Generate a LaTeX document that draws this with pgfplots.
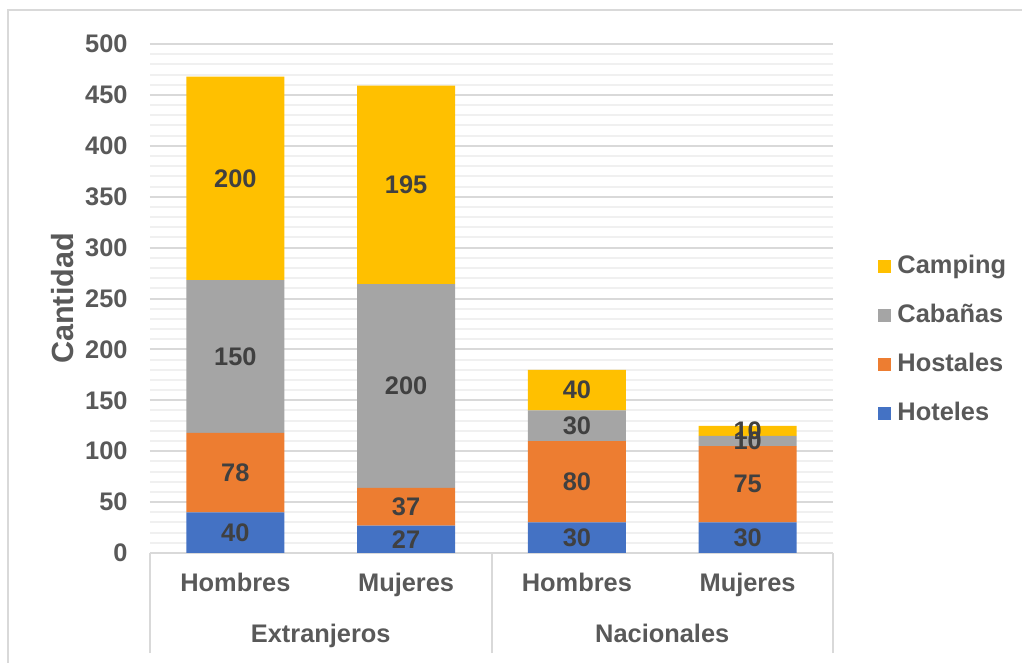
\documentclass[border=0pt]{standalone}
\usepackage{fontspec}
\setmainfont{Liberation Sans}
\usepackage{pgfplots}
\pgfplotsset{compat=1.18}

\definecolor{hoteles}{HTML}{4472C4}
\definecolor{hostales}{HTML}{ED7D31}
\definecolor{cabanas}{HTML}{A5A5A5}
\definecolor{camping}{HTML}{FFC000}
\definecolor{gridc}{HTML}{D9D9D9}
\definecolor{minorc}{HTML}{F0F0F0}
\definecolor{txt}{HTML}{595959}
\definecolor{lbl}{HTML}{404040}

\pgfplotstableread{
x  hot hos cab cam
0  40  78  150 200
1  27  37  200 195
2  30  80  30  40
3  30  75  10  10
}\datos

\newcommand{\chartfont}{\fontsize{12.7}{15}\selectfont\bfseries}

\begin{document}
\begin{tikzpicture}
\path[use as bounding box] (-75pt,-55pt) rectangle (436pt,276.5pt);
\draw[gridc, line width=1.2pt] (-71pt,-70pt) -- (-71pt,271.5pt) -- (450pt,271.5pt);
\begin{axis}[
  at={(0,0)}, anchor=south west,
  scale only axis, width=341.5pt, height=254.5pt,
  ybar stacked, bar width=0.573,
  xmin=-0.5, xmax=3.5, ymin=0, ymax=500,
  enlargelimits=false, clip=false,
  ytick distance=50, minor y tick num=4,
  ymajorgrids, yminorgrids,
  major grid style={draw=gridc, line width=1pt},
  minor grid style={draw=minorc, line width=1pt},
  axis lines*=left,
  x axis line style={draw=gridc, line width=1pt},
  y axis line style={draw=none},
  xtick={0,1,2,3},
  xticklabels={Hombres,Mujeres,Hombres,Mujeres},
  xtick style={draw=none}, ytick style={draw=none},
  extra x ticks={-0.5,1.5,3.5}, extra x tick labels={},
  extra x tick style={major tick length=50pt, tick align=outside,
    xtick style={draw=gridc, line width=1pt}},
  /pgf/number format/assume math mode=true,
  ticklabel style={font=\chartfont, text=txt},
  yticklabel style={anchor=east, inner sep=0pt, xshift=-11pt},
  xticklabel style={anchor=base, yshift=-19.25pt},
  ylabel={Cantidad},
  ylabel style={font=\fontsize{15.3}{18}\selectfont\bfseries, text=txt, anchor=center,
    at={(axis description cs:-0.128,0.5)}},
  legend cell align=left,
  reverse legend,
  legend style={at={(rel axis cs:1.066,0.418)}, anchor=west,
    draw=none, fill=none, inner sep=0pt, row sep=12.5pt,
    font=\chartfont, text=txt,
    nodes={inner sep=0pt, text height=9.5pt, text depth=2.5pt}},
  legend image code/.code={\fill[#1] (0pt,-3.25pt) rectangle (6.5pt,3.25pt);
    \path (9.5pt,0pt);},
  nodes near coords,
  point meta=explicit symbolic,
  every node near coord/.append style={font=\chartfont, text=lbl, anchor=center},
]
\addplot[fill=hoteles, draw=none] table[x=x, y=hot, meta=hot] {\datos};
\addplot[fill=hostales, draw=none] table[x=x, y=hos, meta=hos] {\datos};
\addplot[fill=cabanas, draw=none] table[x=x, y=cab, meta=cab] {\datos};
\addplot[fill=camping, draw=none] table[x=x, y=cam, meta=cam] {\datos};
\legend{Hoteles, Hostales, Cabañas, Camping}
\node[font=\chartfont, text=txt, anchor=base] at (axis cs:0.5,0) [yshift=-44.75pt] {Extranjeros};
\node[font=\chartfont, text=txt, anchor=base] at (axis cs:2.5,0) [yshift=-44.75pt] {Nacionales};
\end{axis}
\end{tikzpicture}
\end{document}
